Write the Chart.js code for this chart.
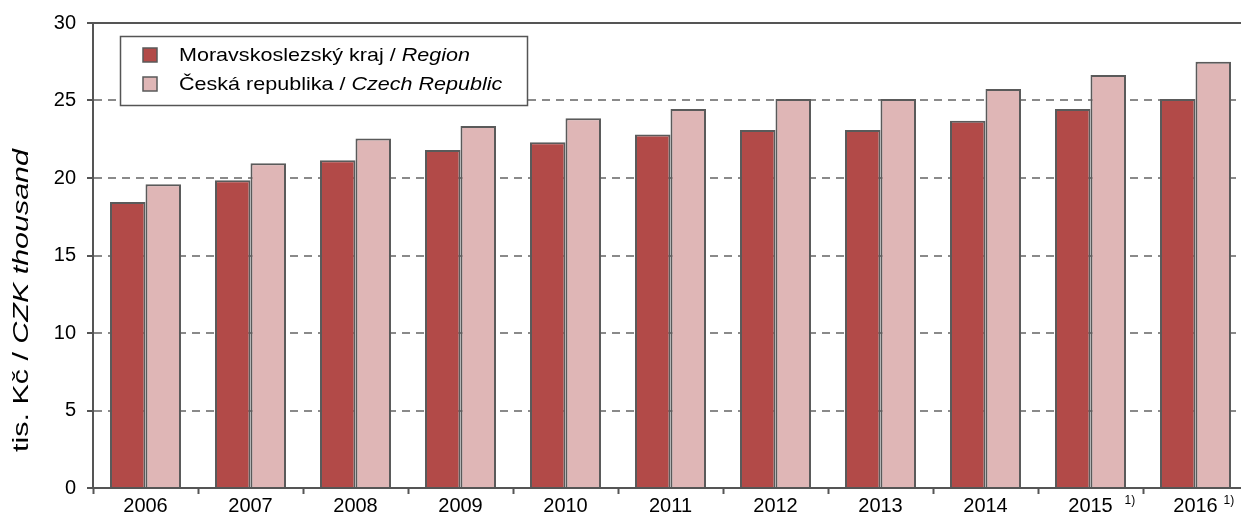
<!DOCTYPE html>
<html>
<head>
<meta charset="utf-8">
<script src="https://cdn.jsdelivr.net/npm/chart.js@4"></script>
<style>
  html, body { margin: 0; padding: 0; background: #fff; overflow: hidden; }
  #wrap { position: relative; width: 1250px; height: 523px; }
</style>
</head>
<body>
<div id="wrap"><canvas id="chart"></canvas></div>
<script>
// --- Dados ---
const years = ['2006', '2007', '2008', '2009', '2010', '2011', '2012', '2013', '2014', '2015', '2016'];
const regionValues = [18.45, 19.85, 21.15, 21.8, 22.3, 22.8, 23.1, 23.1, 23.7, 24.45, 25.1];
const czechValues = [19.6, 20.95, 22.55, 23.35, 23.85, 24.45, 25.1, 25.1, 25.75, 26.65, 27.5];
const footnoteYears = ['2015', '2016'];
const regionLabel = ['Moravskoslezský kraj / ', 'Region'];
const czechLabel = ['Česká republika / ', 'Czech Republic'];
const axisTitle = ['tis. Kč / ', 'CZK thousand'];

const RED = '#B24A48';
const PINK = '#DFB6B6';
const EDGE = '#5a5a5a';
const FONT = '"Liberation Sans", Arial, sans-serif';

// largura de um texto misto (normal + itálico)
const mixedWidth = (ctx, parts, size) => {
  ctx.font = `${size}px ${FONT}`;
  const a = ctx.measureText(parts[0]).width;
  ctx.font = `italic ${size}px ${FONT}`;
  return a + ctx.measureText(parts[1]).width;
};

// texto com parte normal + parte itálica, esticado na horizontal por sx
const mixedText = (ctx, x, y, parts, size, sx = 1) => {
  ctx.save();
  ctx.translate(x, y);
  ctx.scale(sx, 1);
  ctx.font = `${size}px ${FONT}`;
  ctx.fillText(parts[0], 0, 0);
  const w = ctx.measureText(parts[0]).width;
  ctx.font = `italic ${size}px ${FONT}`;
  ctx.fillText(parts[1], w, 0);
  ctx.restore();
};

const extras = {
  id: 'extras',
  afterDraw(chart) {
    const ctx = chart.ctx;
    const xs = chart.scales.x;
    ctx.save();
    ctx.textBaseline = 'middle';
    ctx.textAlign = 'left';

    // legenda
    ctx.fillStyle = '#fff';
    ctx.fillRect(120, 36, 407, 69);
    ctx.strokeStyle = '#555';
    ctx.lineWidth = 1.5;
    ctx.strokeRect(120.5, 36.5, 407, 69);
    const sx = 291 / mixedWidth(ctx, regionLabel, 19);
    [[RED, regionLabel, 55], [PINK, czechLabel, 84]].forEach(([c, parts, y]) => {
      ctx.fillStyle = c;
      ctx.fillRect(143, y - 7, 14, 14);
      ctx.strokeStyle = EDGE;
      ctx.lineWidth = 1.5;
      ctx.strokeRect(143, y - 7, 14, 14);
      ctx.fillStyle = '#000';
      mixedText(ctx, 179, y + 1, parts, 19, sx);
    });

    // título do eixo y
    ctx.save();
    ctx.translate(22, 301);
    ctx.rotate(-Math.PI / 2);
    const ts = 303 / mixedWidth(ctx, axisTitle, 22);
    ctx.fillStyle = '#000';
    mixedText(ctx, -151, 0, axisTitle, 22, ts);
    ctx.restore();

    // notas 1)
    ctx.fillStyle = '#000';
    ctx.font = `12px ${FONT}`;
    const offs = [34, 28];
    footnoteYears.forEach((yr, k) => {
      const i = years.indexOf(yr);
      const x = xs.getPixelForTick(i);
      ctx.fillText('1)', x + offs[k], 501);
    });
    ctx.restore();
  }
};

new Chart(document.getElementById('chart'), {
  type: 'bar',
  data: {
    labels: years,
    datasets: [
      { label: regionLabel.join(''), data: regionValues, backgroundColor: RED, borderColor: EDGE, borderWidth: 2 },
      { label: czechLabel.join(''), data: czechValues, backgroundColor: PINK, borderColor: EDGE, borderWidth: 2 }
    ]
  },
  options: {
    responsive: true,
    maintainAspectRatio: false,
    animation: false,
    categoryPercentage: 0.676,
    barPercentage: 1,
    layout: { padding: { top: 21, right: 2, bottom: 0, left: 0 } },
    plugins: { legend: { display: false }, tooltip: { enabled: false } },
    scales: {
      x: {
        afterFit: s => { s.height = 35; },
        grid: { offset: true, drawOnChartArea: false, tickLength: 6, tickColor: '#555', tickWidth: 2 },
        border: { color: '#555', width: 2 },
        ticks: { color: '#000', font: { family: FONT, size: 20 }, padding: 0, maxRotation: 0 }
      },
      y: {
        min: 0,
        max: 30,
        afterFit: s => { s.width = 93; },
        grid: {
          color: c => c.tick.value === 30 ? '#555' : '#8a8a8a',
          lineWidth: 2,
          tickLength: 6,
          tickColor: '#555',
          tickBorderDash: []
        },
        border: { color: '#555', width: 2, dash: c => c.tick && c.tick.value === 30 ? [] : [8, 6] },
        ticks: { stepSize: 5, color: '#000', font: { family: FONT, size: 20 }, padding: 11 }
      }
    }
  },
  plugins: [extras]
});
</script>
</body>
</html>
